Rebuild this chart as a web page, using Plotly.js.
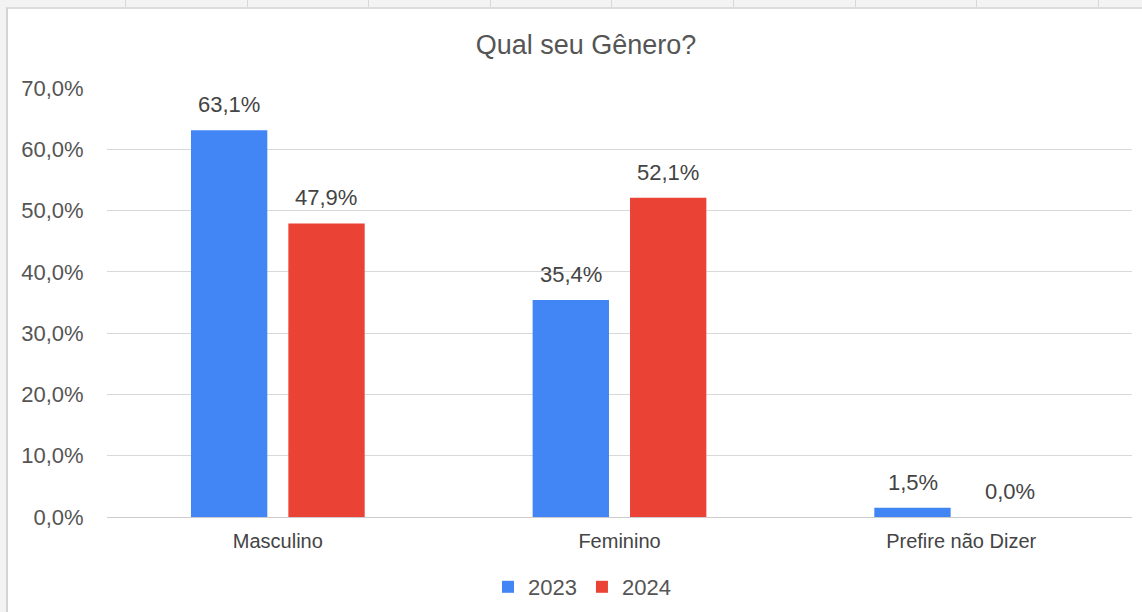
<!DOCTYPE html>
<html>
<head>
<meta charset="utf-8">
<script src="https://cdn.plot.ly/plotly-3.0.1.min.js"></script>
<style>
  html, body { margin: 0; padding: 0; width: 1142px; height: 612px; overflow: hidden; background: #f3f3f3; }
  #frame { position: absolute; left: 6px; top: 7px; width: 1136px; height: 605px; background: #ffffff;
           border-left: 2px solid #d4d4d4; border-top: 2px solid #dcdcdc; box-sizing: border-box; }
  .sep { position: absolute; top: 0; width: 1px; height: 7px; background: #d8d8d8; }
  #chart { position: absolute; left: 0; top: 0; width: 1142px; height: 612px; }
</style>
</head>
<body>
<div id="frame"></div>
<div id="seps"></div>
<div id="chart"></div>
<script>
const categories = ["Masculino", "Feminino", "Prefire não Dizer"];
const seriesNames = ["2023", "2024"];
const values2023 = [63.1, 35.4, 1.5];
const values2024 = [47.9, 52.1, 0.0];
const yTicks = [0, 10, 20, 30, 40, 50, 60, 70];

// spreadsheet column separators in top band (decoration)
const sepX = [125, 247, 368, 490, 611, 733, 855, 976, 1098];
const sepsDiv = document.getElementById('seps');
sepX.forEach(x => { const d = document.createElement('div'); d.className = 'sep'; d.style.left = x + 'px'; sepsDiv.appendChild(d); });

const fmt = v => v.toFixed(1).replace('.', ',') + '%';
const colors = ['#4285F4', '#EA4335'];
const allVals = [values2023, values2024];
const FONT = 'Liberation Sans, Arial, sans-serif';

const traces = allVals.map((vals, i) => ({
  type: 'bar',
  name: seriesNames[i],
  x: categories,
  y: vals,
  marker: { color: colors[i] },
  hoverinfo: 'none'
}));

const annotations = [];
allVals.forEach((vals, i) => {
  vals.forEach((v, j) => {
    annotations.push({
      x: categories[j], y: v, xref: 'x', yref: 'y',
      text: fmt(v), showarrow: false,
      xshift: i === 0 ? -48.5 : 48.5,
      yanchor: 'bottom', yshift: 11,
      font: { family: FONT, size: 22, color: '#444444' }
    });
  });
});

const layout = {
  width: 1142, height: 612,
  paper_bgcolor: 'rgba(0,0,0,0)', plot_bgcolor: 'rgba(0,0,0,0)',
  margin: { l: 107, r: 10, t: 88, b: 95, autoexpand: false },
  separators: ',.',
  font: { family: FONT, color: '#444444' },
  title: {
    text: 'Qual seu Gênero?',
    font: { family: FONT, size: 27, color: '#555555' },
    xref: 'container', x: 586 / 1142, xanchor: 'center',
    yref: 'container', y: 1 - 45 / 612, yanchor: 'middle'
  },
  barmode: 'group',
  bargap: 0.43,
  bargroupgap: 0.216,
  xaxis: {
    type: 'category',
    tickfont: { family: FONT, size: 20, color: '#444444' },
    showgrid: false, zeroline: false, showline: false,
    ticks: 'outside', ticklen: 6, tickcolor: 'rgba(0,0,0,0)',
    automargin: false
  },
  yaxis: {
    range: [0, 70],
    tickmode: 'array',
    tickvals: yTicks,
    ticktext: yTicks.map(fmt),
    tickfont: { family: FONT, size: 22, color: '#555555' },
    showgrid: true, gridcolor: '#d9d9d9', gridwidth: 1,
    zeroline: true, zerolinecolor: '#cccccc', zerolinewidth: 1,
    ticks: 'outside', ticklen: 18, tickcolor: 'rgba(0,0,0,0)',
    fixedrange: true, automargin: false
  },
  showlegend: true,
  legend: {
    orientation: 'h',
    x: (582 - 107) / 1025, xanchor: 'center',
    y: (517 - 587) / 429, yanchor: 'middle',
    font: { family: FONT, size: 22, color: '#555555' },
    itemwidth: 30, traceorder: 'normal'
  },
  annotations: annotations
};

Plotly.newPlot('chart', traces, layout, { displayModeBar: false, staticPlot: true });
</script>
</body>
</html>
